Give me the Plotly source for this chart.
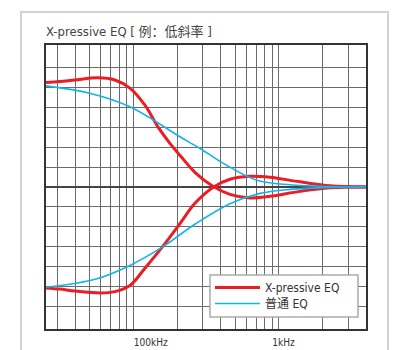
import numpy as np
import plotly.graph_objects as go

# Frequencies (log axis units) and levels (grid units, 0 = flat)
freq_red_boost = [25.2, 31.4, 39.8, 57.3, 74.8, 94.9, 120, 147.7, 178.6, 209, 265, 352, 461, 632, 867, 1393, 2240, 3955]
red_boost = [5.26, 5.31, 5.39, 5.5, 5.39, 4.98, 4.13, 3.03, 2.2, 1.6, 0.74, 0.035, -0.37, -0.55, -0.47, -0.22, -0.04, 0.0]

freq_red_cut = [25.2, 31.4, 39.8, 60.0, 74.8, 94.9, 120, 158, 209, 265, 352, 461, 632, 867, 1393, 2240, 3955]
red_cut = [-5.08, -5.14, -5.24, -5.34, -5.27, -4.96, -4.1, -3.03, -1.85, -0.82, -0.02, 0.39, 0.54, 0.49, 0.26, 0.06, 0.0]

freq_blue_boost = [25.2, 50.3, 94.9, 209, 287, 413, 706, 1190, 2240, 3955]
blue_boost = [5.09, 4.72, 4.04, 2.53, 1.94, 1.2, 0.34, 0.11, 0.02, 0.0]

freq_blue_cut = [25.2, 55.7, 94.9, 158, 268, 461, 741, 1190, 2240, 3955]
blue_cut = [-5.05, -4.63, -3.95, -3.03, -1.85, -0.84, -0.32, -0.12, -0.02, 0.0]

grid_x = [30, 40, 50, 60, 70, 80, 90, 100, 200, 300, 400, 500, 600, 700, 800, 900, 1000, 2000, 3000]
grid_y = [-6, -5, -4, -3, -2, -1, 1, 2, 3, 4, 5, 6]
tick_label_pos = [132, 1075]
tick_labels = ["100kHz", "1kHz"]

series_names = ["X-pressive EQ", "普通 EQ"]
RED = "#ec1c24"
BLUE = "#12b4ea"
FONT = "Liberation Sans Narrow, DejaVu Sans Condensed, Roboto, Noto Sans CJK SC, sans-serif"

# page is offset by the body margin (8px); the figure is sized to fit the window
OFF = 8
W, H = 402 - OFF, 350 - OFF
L, T = 46 - OFF, 45 - OFF
PW, PH = 320, 284
PAGE_PB = 329  # plot bottom, page px


def px_x(x):
    return (x - 46) / PW


def px_y(y):
    return (PAGE_PB - y) / PH


fig = go.Figure()
fig.add_trace(go.Scatter(x=freq_red_boost, y=red_boost, mode="lines", line=dict(color=RED, width=3, shape="spline"),
                         name=series_names[0], legend="legend", showlegend=True))
fig.add_trace(go.Scatter(x=freq_red_cut, y=red_cut, mode="lines", line=dict(color=RED, width=3, shape="spline"),
                         name=series_names[0], showlegend=False))
fig.add_trace(go.Scatter(x=freq_blue_boost, y=blue_boost, mode="lines", line=dict(color=BLUE, width=1.6, shape="spline"),
                         name=series_names[1], legend="legend2", showlegend=True))
fig.add_trace(go.Scatter(x=freq_blue_cut, y=blue_cut, mode="lines", line=dict(color=BLUE, width=1.6, shape="spline"),
                         name=series_names[1], showlegend=False))
fig.add_trace(go.Scatter(x=tick_label_pos, y=[0, 0], mode="markers", marker=dict(opacity=0), xaxis="x2",
                         showlegend=False, hoverinfo="skip"))

legend_common = dict(xanchor="left", yanchor="top", bgcolor="rgba(0,0,0,0)", borderwidth=0,
                     font=dict(size=12, color="#333", family=FONT), itemwidth=45)

xr = [np.log10(25.2), np.log10(3955)]
fig.update_layout(
    width=W, height=H,
    margin=dict(l=L, r=W - L - PW, t=T, b=H - T - PH, autoexpand=False),
    paper_bgcolor="white", plot_bgcolor="white",
    font=dict(family=FONT, color="#333"),
    title=dict(text="X-pressive EQ [ 例：低斜率 ]", x=0, xref="paper", xanchor="left",
               y=1 - (31 - OFF) / H, yref="container", yanchor="middle",
               font=dict(size=13, color="#444", family=FONT)),
    xaxis=dict(type="log", range=xr, tickvals=grid_x, showticklabels=False, ticks="",
               showgrid=True, gridcolor="#6a6a6a", gridwidth=1.3,
               showline=True, mirror=True, linecolor="#333", linewidth=2, zeroline=False),
    xaxis2=dict(type="log", range=xr, overlaying="x", side="bottom", tickvals=tick_label_pos,
                ticktext=tick_labels, showgrid=False, ticks="", showline=False, zeroline=False,
                tickfont=dict(size=10, color="#333"), ticklabelstandoff=6),
    yaxis=dict(range=[-7.15, 7.15], tickvals=grid_y, showticklabels=False, ticks="",
               showgrid=True, gridcolor="#6a6a6a", gridwidth=1.3,
               zeroline=True, zerolinecolor="#444", zerolinewidth=2,
               showline=True, mirror=True, linecolor="#333", linewidth=2),
    legend=dict(x=px_x(210), y=px_y(273), **legend_common),
    legend2=dict(x=px_x(210), y=px_y(289), **legend_common),
    shapes=[
        dict(type="rect", xref="paper", yref="paper",
             x0=px_x(21), x1=px_x(388), y0=px_y(360), y1=px_y(12),
             line=dict(color="#d2d2d2", width=2), fillcolor="rgba(0,0,0,0)", layer="below"),
        dict(type="rect", xref="paper", yref="paper",
             x0=px_x(210), x1=px_x(358), y0=px_y(317), y1=px_y(275),
             line=dict(color="#aaaaaa", width=1.5), fillcolor="white", layer="above"),
    ],
    showlegend=True,
)

fig.write_html("out.html")
